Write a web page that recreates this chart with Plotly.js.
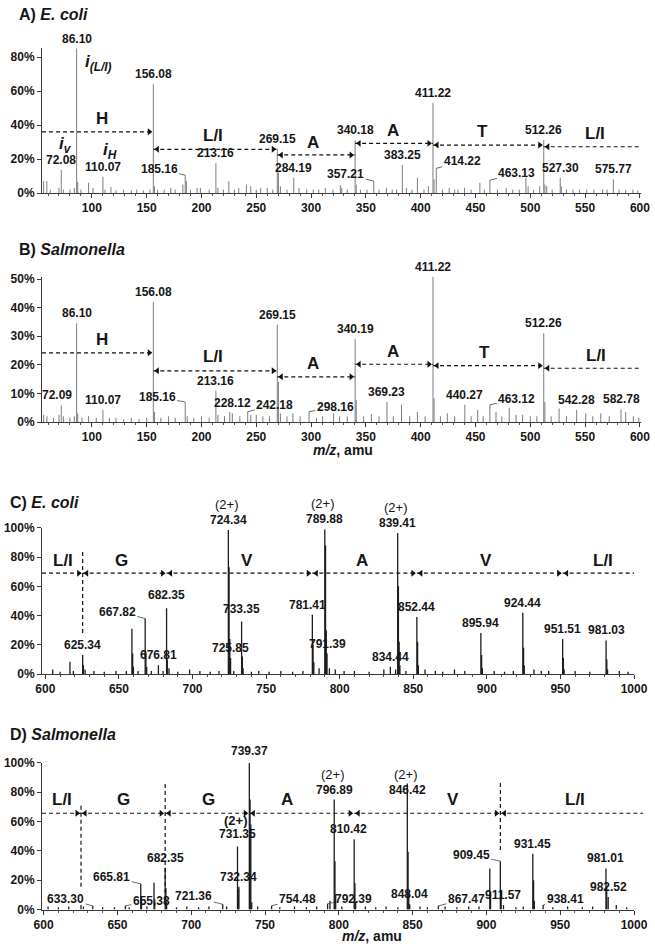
<!DOCTYPE html>
<html><head><meta charset="utf-8">
<script src="https://cdn.plot.ly/plotly-3.0.1.min.js"></script>
<style>html,body{margin:0;padding:0;background:#fff}#chart{width:655px;height:948px}</style>
</head><body><div id="chart"></div>
<script>
// ================= DATA =================
// Panel A  (E. coli, m/z 50-600): peak m/z and relative intensity (%)
const mzA = [56.0,58.9,62.0,70.0,72.08,74.0,80.0,84.0,86.10,87.1,
  90.0,97.0,101.0,110.07,112.0,117.4,122.0,129.0,136.0,141.0,
  147.0,153.0,156.08,157.1,160.0,166.0,172.0,176.0,183.0,185.16,
  186.2,190.0,196.0,199.0,207.0,213.16,215.0,220.0,225.0,230.0,
  234.0,241.0,245.0,250.0,254.0,260.0,265.0,269.15,270.2,272.0,
  278.0,284.19,289.0,296.0,302.0,307.0,313.0,320.0,326.7,328.0,
  333.0,340.18,341.2,345.0,351.0,357.21,362.0,368.7,374.0,378.0,
  383.25,387.0,392.0,397.0,403.0,407.0,411.22,412.2,414.22,420.0,
  426.0,431.0,434.0,440.0,446.0,454.0,458.0,463.13,470.0,478.0,
  484.0,490.0,496.0,498.0,503.0,508.6,512.26,513.3,515.0,520.0,
  527.30,528.3,533.0,539.0,545.0,551.5,558.0,566.0,570.0,575.77,
  581.0,587.0,593.6,598.0];
const intA = [7,7,2,3,13.5,2,2,3,85,6.5,
  2,6,3,9.5,2,3.5,1.5,2,1.5,2,
  1.5,2,64,4,2,2,3,2,5,10.5,
  7,2,3,3,2,17.5,3,2,7,2,
  3,5,4,2,3,3,2,26,12,4,
  2,9,3,2,2,2,3,2,4.7,3,
  2,31,5,2,2,7,2,3,2,2,
  16.5,3,2,9,2,4,53,8,14.5,2,
  3,2,2,3,2,6,2,7.5,2,3,
  2,2,9,4,2,4,31,5,4,2,
  9,4,2,2,2,2,2,2,2,8,
  2,2,2,1.5];
const labelsA = [72.08,86.10,110.07,156.08,185.16,213.16,269.15,284.19,340.18,357.21,383.25,411.22,414.22,463.13,512.26,527.30,575.77];
const seqBoundsA = [156.08,269.15,340.18,411.22,512.26];
const seqLettersA = ['H','L/I','A','A','T','L/I'];

// Panel B  (Salmonella, m/z 50-600)
const mzB = [56,59,65,70,72.09,74,80,84,86.10,87.1,
  91,97,104,110.07,116,122,129,136,143,150,
  156.08,157.1,163,170,176,185.16,187,193,200,207,
  213.16,215,221,225.8,228.12,235,242.18,245,250,256,
  262,269.15,270.2,272,278,283.4,290,298.16,305,310.5,
  320.5,326,333,340.19,341.2,348,355,362,369.23,375,
  382.5,390,397,404,411.22,412.2,418,424.3,431,440.27,
  446,452,457,463.12,468.7,474,480.8,487,493,500,
  506,512.26,513.3,519,526.3,533,542.28,550.6,557,564.3,
  572,582.78,587,594,599];
const intB = [2.5,2,1.5,2.5,5.8,2,1.5,2,34.5,3,
  1.5,2,1.5,4.2,1.5,1.5,1,1.5,1,1.5,
  42,3.5,1.5,2,1.5,7,2,1.5,2,1.5,
  11,2.5,2,3.5,3,2,3.6,2.5,2.5,2,
  2,34,14,3,2,3,2,3.6,1.5,2,
  3,2,2,29,7.7,2,2.8,2,7,2,
  6,2,3.5,2,50.7,8.3,2,3,2,6,
  2,4.2,2,6,3.5,2,5,2.5,2.5,2,
  2,31,7,2,4.7,2,4.2,3,2,3,
  2,4.4,3.5,2,1.5];
const labelsB = [72.09,86.10,110.07,156.08,185.16,213.16,228.12,242.18,269.15,298.16,340.19,369.23,411.22,440.27,463.12,512.26,542.28,582.78];
const seqBoundsB = [156.08,269.15,340.19,411.22,512.26];
const seqLettersB = ['H','L/I','A','A','T','L/I'];

// Panel C  (E. coli, m/z 600-1000)
const mzC = [605,610,616.7,619,625.34,625.84,627,633,640,648,
  655,658.8,659.3,659.8,663,667.82,668.32,668.82,672,676.81,
  680,682.35,682.85,684,690,698,705,712,718,724.34,
  724.84,725.34,725.85,728,733.35,733.85,734.35,740,745,752,
  760,768,775,781.41,781.91,782.41,786,789.88,790.38,790.88,
  791.39,793,797,803,810,820,830,834.44,838,839.41,
  839.91,840.41,840.91,845,852.44,852.94,853.44,858,865,870,
  878,885,895.94,896.44,896.94,905,912,918,924.44,924.94,
  925.44,932,937,942,951.51,952.01,952.51,960,970,981.03,
  981.53,982.03,990,996];
const intC = [3,1.5,8.4,2,13,6,3,2,1.5,2,
  2,31,14,5,2,38,15,5,2,6,
  2,45,10,4,1.5,3,2,1.5,2,98.6,
  73,24,11,2,36,12,4,1.5,2,1.5,
  2,1.5,2,40.5,20,8,4,99,88,30,
  14,4,3,2,2,1.5,3,5,3,96.6,
  60,22,6,2,39,22,6,3,2,1.5,
  3,2,28,13,4,2,1.5,2,42,18,
  6,3,2,2,24,11,3,2,1.5,23,
  10,3,2,1.5];
const labelsC = [625.34,667.82,676.81,682.35,724.34,725.85,733.35,781.41,789.88,791.39,834.44,839.41,852.44,895.94,924.44,951.51,981.03];
const doublyC = [724.34,789.88,839.41];
const seqBoundsC = [625.34,682.35,781.41,852.44,951.51];
const seqLettersC = ['L/I','G','V','A','V','L/I'];

// Panel D  (Salmonella, m/z 600-1000)
const mzD = [603,610,617,625.34,627,633.30,640,648,655.38,658,
  665.81,666.31,670,674.8,675.3,682.35,682.85,683.35,690,697,
  705,712,721.36,724,731.35,731.85,732.34,739.37,739.87,740.37,
  741,745,754.48,760,770,778,785,792.39,794,796.89,
  797.39,797.89,802,810.42,810.92,811.42,818,825,832,840,
  846.42,846.92,847.42,848.04,855,860,867.47,872,880,888,
  895,902.3,902.8,909.45,910,911.57,920,925,931.45,931.95,
  932.45,938.41,945,955,965,972,981.01,981.51,982.52,988,
  995];
const intD = [2,1.5,2,3,2,2.5,1.5,1.5,2.5,1.5,
  17.5,7,2,18.3,7,28.5,14.6,5,1.5,2,
  1.5,2,3.5,2,43,14,15.6,100,75,58,
  5,2,2.5,1.5,2,1.5,2,4,6,75,
  33,10,2,48,18,5,2,1.5,2,1.5,
  86,39.5,12,3.5,2,1.5,2.5,2,1.5,2,
  2,28,10,33,12,3,1.5,2,38,20,
  6,3,1.5,2,1.5,2,28,15.6,8.5,3,
  1.5];
const labelsD = [633.30,655.38,665.81,682.35,721.36,731.35,732.34,739.37,754.48,792.39,796.89,810.42,846.42,848.04,867.47,909.45,911.57,931.45,938.41,981.01,982.52];
const doublyD = [731.35,796.89,846.42];
const seqBoundsD = [625.34,682.35,739.37,810.42,909.45];
const seqLettersD = ['L/I','G','G','A','V','L/I'];

// ================= STYLE / LAYOUT =================
const W = 655, H = 948;
const FONT = 'Arial, "Liberation Sans", Helvetica, sans-serif';
const TXT = '#161616';

const P = {
  A: {xa:'x', ya:'y', xpx:[42,641], ypx:[193,48], xr:[54.5,601], yr:[0,85.3], dy:20,
      mz:mzA, it:intA, labels:labelsA, doubly:[], bounds:seqBoundsA, letters:seqLettersA,
      stick:{color:'#7c7c7c', width:1},
      lineY:[36,25.7,22.4,29.2,28.2,27.2],
      letterX:[109,210.6,301.6,374.5,456.5,559], letterY:[44,34,29.6,37,36,35],
      vlines:[], endOver:0, markY:5.9,
      lab:{185.16:{ax:-26,ay:-6},357.21:{ax:-28,ay:-7},414.22:{ax:26,ay:-7},463.13:{ax:27,ay:-7}},
      title:{text:'<b>A) <i>E. coli</i></b>', x:17, y:14}},
  B: {xa:'x2', ya:'y2', xpx:[42,641], ypx:[422,277], xr:[54.5,601], yr:[0,50.7], dy:10,
      mz:mzB, it:intB, labels:labelsB, doubly:[], bounds:seqBoundsB, letters:seqLettersB,
      stick:{color:'#7c7c7c', width:1},
      lineY:[24.2,17.9,15.8,20.2,19.7,18.8],
      letterX:[109,210.6,301.6,375,458,560], letterY:[28.9,23,20.5,24.6,24.2,23.4],
      vlines:[], endOver:0, markY:1,
      lab:{72.09:{dx:-4},185.16:{ax:-28,ay:-5},242.18:{ax:27,ay:-7},298.16:{ax:26,ay:-5},463.12:{ax:27,ay:-6}},
      title:{text:'<b>B) <i>Salmonella</i></b>', x:17, y:249},
      axTitle:{x:343, y:450}},
  C: {xa:'x3', ya:'y3', xpx:[42,634], ypx:[674,527.5], xr:[597.7,1000], yr:[0,100.3], dy:20,
      mz:mzC, it:intC, labels:labelsC, doubly:doublyC, bounds:seqBoundsC, letters:seqLettersC,
      stick:{color:'#1c1c1c', width:1.3},
      lineY:[69,69,69,69,69,69],
      letterX:[612.2,651.9,736.8,815,899.3,978.9], letterY:[78,78,78,78,78,78],
      vlines:[{b:0,y0:28,y1:85}], endOver:0, markY:5,
      lab:{667.82:{ax:-28,ay:-7},682.35:{dy:3},733.35:{dy:2},781.41:{dx:-5}},
      dblBold:false, dblGap:15,
      title:{text:'<b>C) <i>E. coli</i></b>', x:8, y:502}},
  D: {xa:'x4', ya:'y4', xpx:[42,634], ypx:[909.5,762.7], xr:[598.9,1000], yr:[0,100.2], dy:20,
      mz:mzD, it:intD, labels:labelsD, doubly:doublyD, bounds:seqBoundsD, letters:seqLettersD,
      stick:{color:'#1c1c1c', width:1.3},
      lineY:[65.7,65.7,65.7,65.7,65.7,65.7],
      letterX:[612.7,654,711.6,765.1,877.6,960], letterY:[75,75,75,75,75,75],
      vlines:[{b:0,y0:15.6,y1:72},{b:1,y0:6.5,y1:86},{b:4,y0:40.6,y1:86.5}], endOver:9, markY:1,
      lab:{633.30:{ax:-27,ay:-7},655.38:{ax:26,ay:-5},665.81:{ax:-29,ay:-7},721.36:{ax:-29,ay:-8},
           754.48:{ax:26,ay:-7},792.39:{ax:26,ay:-5},867.47:{ax:28,ay:-7},909.45:{ax:-29,ay:-6},
           938.41:{ax:22,ay:-6},731.35:{dy:3},739.37:{dy:2},810.42:{dx:-6},846.42:{dy:-16}},
      dblBold:{731.35:true}, dblGap:{731.35:13, def:15},
      title:{text:'<b>D) <i>Salmonella</i></b>', x:8, y:734},
      axTitle:{x:372, y:936}}
};

const traces = [], annotations = [], shapes = [];
const layout = {
  width: W, height: H, margin:{l:0,r:0,t:0,b:0},
  paper_bgcolor:'#fff', plot_bgcolor:'rgba(0,0,0,0)',
  showlegend:false, font:{family:FONT, color:TXT},
  annotations, shapes
};

function fr(px){ return px / W; }
function fy(py){ return 1 - py / H; }

Object.keys(P).forEach(k => {
  const p = P[k];
  const xKey = p.xa === 'x' ? 'xaxis' : 'xaxis' + p.xa.slice(1);
  const yKey = p.ya === 'y' ? 'yaxis' : 'yaxis' + p.ya.slice(1);
  const pxPerUnit = (p.xpx[1] - p.xpx[0]) / (p.xr[1] - p.xr[0]);
  layout[xKey] = {
    domain:[fr(p.xpx[0]), fr(p.xpx[1])], range:p.xr, anchor:p.ya,
    showline:true, linecolor:'#3a3a3a', linewidth:1, zeroline:false, showgrid:false,
    ticks:'outside', ticklen:4, tickcolor:'#3a3a3a', tickmode:'linear', tick0:0, dtick:50,
    minor:{ticks:'outside', ticklen:2, tickcolor:'#555', dtick:10, tick0:0, showgrid:false},
    tickfont:{family:FONT, size:12, color:TXT, weight:700}, fixedrange:true
  };
  layout[yKey] = {
    domain:[fy(p.ypx[0]), fy(p.ypx[1])], range:p.yr, anchor:p.xa,
    showline:true, linecolor:'#3a3a3a', linewidth:1, zeroline:false, showgrid:false,
    ticks:'outside', ticklen:4, tickcolor:'#3a3a3a', tickmode:'linear', tick0:0, dtick:p.dy,
    ticksuffix:'%', tickfont:{family:FONT, size:12, color:TXT, weight:700}, fixedrange:true
  };

  // sticks
  const sx = [], sy = [];
  p.mz.forEach((m, i) => { sx.push(m, m, null); sy.push(0, p.it[i], null); });
  traces.push({type:'scatter', mode:'lines', x:sx, y:sy, xaxis:p.xa, yaxis:p.ya,
    line:p.stick, hoverinfo:'skip', connectgaps:false});

  // small axis marker (triangle)
  traces.push({type:'scatter', mode:'markers', x:[p.xr[0] - 2/pxPerUnit], y:[p.markY],
    xaxis:p.xa, yaxis:p.ya, cliponaxis:false,
    marker:{symbol:'triangle-right', size:7, color:'#111'}, hoverinfo:'skip'});

  // peak labels
  p.labels.forEach(m => {
    const i = p.mz.indexOf(m);
    const v = p.it[i];
    const st = p.lab[m] || {};
    const a = {xref:p.xa, yref:p.ya, x:m, y:v, text:m.toFixed(2),
      font:{family:FONT, size:12, color:TXT, weight:700}};
    let yshift = 1 + (st.dy || 0);
    if (st.ax !== undefined) {
      Object.assign(a, {showarrow:true, arrowhead:0, arrowwidth:0.8, arrowcolor:'#444',
        ax:st.ax, ay:st.ay, standoff:0});
    } else {
      Object.assign(a, {showarrow:false, xanchor:'center', yanchor:'bottom',
        yshift:yshift, xshift:st.dx || 0});
    }
    annotations.push(a);
    if (p.doubly.indexOf(m) >= 0) {
      const bold = p.dblBold && p.dblBold[m];
      const gap = (typeof p.dblGap === 'number') ? p.dblGap : (p.dblGap[m] || p.dblGap.def);
      annotations.push({xref:p.xa, yref:p.ya, x:m, y:v, text:'(2+)', showarrow:false,
        xanchor:'center', yanchor:'bottom', yshift:yshift + gap, xshift:(st.dx||0) - 2,
        font:{family:FONT, size:13, color:TXT, weight:bold ? 700 : 400}});
    }
  });

  // sequence arrows
  const n = p.letters.length;
  const d = 4 / pxPerUnit;
  const ax = [], ay = [], sym = [];
  for (let s = 0; s < n; s++) {
    const x0 = s === 0 ? p.xr[0] : p.bounds[s-1];
    const y = p.lineY[s];
    const dash = {color:'#111', width:1.2, dash:'4px,3px'};
    if (s === n - 1 && p.endOver) {
      const f0 = (x0 - p.xr[0]) / (p.xr[1] - p.xr[0]);
      shapes.push({type:'line', xref:p.xa + ' domain', yref:p.ya, x0:f0, x1:1 + p.endOver / (p.xpx[1]-p.xpx[0]),
        y0:y, y1:y, line:dash});
    } else {
      const x1 = s === n - 1 ? p.xr[1] : p.bounds[s];
      shapes.push({type:'line', xref:p.xa, yref:p.ya, x0:x0, x1:x1, y0:y, y1:y, line:dash});
    }
    if (s > 0) { ax.push(p.bounds[s-1] + d); ay.push(y); sym.push('triangle-left'); }
    if (s < n - 1) { ax.push(p.bounds[s] - d); ay.push(y); sym.push('triangle-right'); }
    annotations.push({xref:p.xa, yref:p.ya, x:p.letterX[s], y:p.letterY[s], text:p.letters[s],
      showarrow:false, xanchor:'center', yanchor:'middle',
      font:{family:FONT, size:17, color:TXT, weight:700}});
  }
  traces.push({type:'scatter', mode:'markers', x:ax, y:ay, xaxis:p.xa, yaxis:p.ya,
    cliponaxis:false, marker:{symbol:sym, size:6, color:'#111'}, hoverinfo:'skip'});

  p.vlines.forEach(vl => {
    const b = p.bounds[vl.b];
    shapes.push({type:'line', xref:p.xa, yref:p.ya, x0:b, x1:b, y0:vl.y0, y1:vl.y1,
      line:{color:'#111', width:1.2, dash:'4px,3px'}});
  });

  // panel title
  annotations.push({xref:'paper', yref:'paper', x:fr(p.title.x), y:fy(p.title.y),
    xanchor:'left', yanchor:'middle', text:p.title.text, showarrow:false,
    font:{family:FONT, size:16, color:TXT}});
  if (p.axTitle) {
    annotations.push({xref:'paper', yref:'paper', x:fr(p.axTitle.x), y:fy(p.axTitle.y),
      xanchor:'center', yanchor:'middle', text:'<b><i>m/z</i>, amu</b>', showarrow:false,
      font:{family:FONT, size:14, color:TXT}});
  }
});

// ion-type labels (panel A)
const immA = [
  {x:105.6, y:76.5, t:'<b><i>i</i></b><sub><b><i>(L/I)</i></b></sub>'},
  {x:75.5, y:28.5, t:'<b><i>i</i></b><sub><b><i>v</i></b></sub>'},
  {x:116.5, y:25, t:'<b><i>i</i></b><sub><b><i>H</i></b></sub>'}
];
immA.forEach(o => annotations.push({xref:'x', yref:'y', x:o.x, y:o.y, text:o.t, showarrow:false,
  xanchor:'center', yanchor:'middle', font:{family:FONT, size:17, color:TXT}}));

Plotly.newPlot('chart', traces, layout, {staticPlot:true, displayModeBar:false});
</script>
</body></html>
